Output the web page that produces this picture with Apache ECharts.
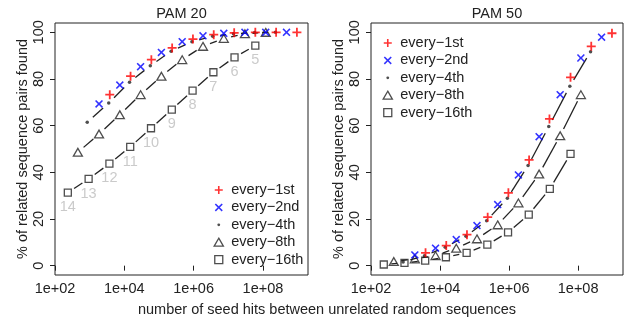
<!DOCTYPE html>
<html>
<head>
<meta charset="utf-8">
<script src="https://cdn.jsdelivr.net/npm/echarts@6.0.0/dist/echarts.min.js"></script>
<style>
  html, body { margin: 0; padding: 0; background: #fff; }
  #main { width: 625px; height: 322px; }
</style>
</head>
<body>
<div id="main"></div>
<script>
// x values are log10(number of seed hits)
var xTicks = [2, 4, 6, 8];
var yTicks = [0, 20, 40, 60, 80, 100];
var names = ['every−1st', 'every−2nd', 'every−4th', 'every−8th', 'every−16th'];

var x1st  = [3.58, 4.18, 4.78, 5.38, 5.98, 6.58, 7.17, 7.78, 8.38, 8.98];
var x2nd  = [3.27, 3.87, 4.47, 5.07, 5.67, 6.27, 6.87, 7.48, 8.08, 8.68];
var x4th  = [2.93, 3.55, 4.15, 4.75, 5.35, 5.95, 6.55, 7.15, 7.76, 8.36];
var x8th  = [2.66, 3.27, 3.87, 4.47, 5.07, 5.67, 6.27, 6.87, 7.48, 8.08];
var x16th = [2.37, 2.97, 3.57, 4.17, 4.77, 5.37, 5.97, 6.57, 7.18, 7.78];

var pam20_1st  = [73.3, 81.2, 88.3, 93.3, 97.1, 99.0, 99.8, 100, 100, 100];
var pam20_2nd  = [69.3, 77.4, 85.3, 91.4, 96.0, 98.5, 99.6, 100, 100, 100];
var pam20_4th  = [61.5, 69.7, 78.6, 85.7, 91.9, 96.0, 98.3, 99.4, 99.9, 100];
var pam20_8th  = [48.6, 56.4, 64.7, 73.3, 81.2, 88.3, 94.0, 97.4, 99.4, 100];
var pam20_16th = [31.3, 37.2, 43.7, 50.9, 58.9, 66.9, 75.0, 82.9, 89.3, 94.3];

var pam50_1st  = [5.5, 8.6, 13.3, 20.8, 31.2, 45.3, 62.9, 80.7, 94.0, 99.6];
var pam50_2nd  = [4.6, 7.5, 11.2, 17.2, 26.2, 38.9, 55.3, 73.3, 89.0, 97.9];
var pam50_4th  = [1.6, 4.2, 7.9, 12.6, 19.3, 28.9, 42.9, 59.6, 76.9, 91.7];
var pam50_8th  = [1.8, 2.9, 4.3, 7.5, 11.5, 17.5, 26.9, 39.3, 55.7, 73.3];
var pam50_16th = [0.5, 1.2, 2.2, 3.6, 5.5, 9.0, 14.3, 21.9, 32.9, 47.9];

// seed weights written next to the every-16th points of PAM 20
var weightLabels = ['14', '13', '12', '11', '10', '9', '8', '7', '6', '5'];

var FONT = "'Liberation Sans', Arial, Helvetica, sans-serif";
var FS = 14.5;
var INK = '#222';
var GAP = 7.5;

var PLUS = 'path://M4,0H6V4H10V6H6V10H4V6H0V4H4Z';
var CROSS = 'path://M0,1.4L1.4,0L5,3.6L8.6,0L10,1.4L6.4,5L10,8.6L8.6,10L5,6.4L1.4,10L0,8.6L3.6,5Z';
var TRI = 'path://M5,0L10,8.66L0,8.66Z';
var SQR = 'path://M0,0H10V10H0Z';
var DOT_ICON = 'path://M0,0M8,8M2.6,4A1.4,1.4 0 1,0 5.4,4A1.4,1.4 0 1,0 2.6,4Z';

var xs = [x1st, x2nd, x4th, x8th, x16th];
var panels = [
  [pam20_1st, pam20_2nd, pam20_4th, pam20_8th, pam20_16th],
  [pam50_1st, pam50_2nd, pam50_4th, pam50_8th, pam50_16th]
];

var styles = [
  { symbol: PLUS, symbolSize: 9, itemStyle: { color: '#ff0000' } },
  { symbol: CROSS, symbolSize: 8, itemStyle: { color: '#0000ff' } },
  { symbol: 'circle', symbolSize: 3.5, itemStyle: { color: INK } },
  { symbol: TRI, symbolSize: 9, itemStyle: { color: 'rgba(0,0,0,0)', borderColor: INK, borderWidth: 1.3 } },
  { symbol: SQR, symbolSize: 7, itemStyle: { color: 'rgba(0,0,0,0)', borderColor: INK, borderWidth: 1.3 } }
];

function zip(a, b) {
  return a.map(function (v, i) { return [v, b[i]]; });
}

function segments(a, b) {
  var out = [];
  for (var i = 1; i < a.length; i++) out.push([a[i - 1], b[i - 1], a[i], b[i]]);
  return out;
}

// R type="b": straight pieces between points, with a gap round each point
function segItem(params, api) {
  try {
    var p = api.coord([api.value(0), api.value(1)]);
    var q = api.coord([api.value(2), api.value(3)]);
    var dx = q[0] - p[0], dy = q[1] - p[1];
    var len = Math.sqrt(dx * dx + dy * dy);
    if (len <= 2 * GAP + 1) return null;
    var ux = dx / len, uy = dy / len;
    return {
      type: 'line',
      shape: { x1: p[0] + ux * GAP, y1: p[1] + uy * GAP, x2: q[0] - ux * GAP, y2: q[1] - uy * GAP },
      style: { stroke: INK, lineWidth: 1.3 }
    };
  } catch (e) {
    return null;
  }
}

var series = [];
panels.forEach(function (ys, g) {
  [2, 3, 4].forEach(function (k) {
    series.push({
      type: 'custom',
      name: 'line' + g + k,
      xAxisIndex: g, yAxisIndex: g,
      renderItem: segItem,
      encode: { x: [0, 2], y: [1, 3] },
      data: segments(xs[k], ys[k]),
      z: 1,
      silent: true
    });
  });
  [4, 3, 2, 1, 0].forEach(function (k) {
    var s = {
      type: 'scatter',
      name: names[k],
      xAxisIndex: g, yAxisIndex: g,
      symbol: styles[k].symbol,
      symbolSize: styles[k].symbolSize,
      symbolKeepAspect: true,
      itemStyle: styles[k].itemStyle,
      data: zip(xs[k], ys[k]),
      z: 3,
      silent: true
    };
    if (g === 0 && k === 4) {
      s.label = {
        show: true, position: 'bottom', distance: 3,
        formatter: function (p) { return weightLabels[p.dataIndex]; },
        color: '#bdbdbd', fontSize: FS, fontFamily: FONT
      };
    }
    series.push(s);
  });
});

var legendData = [
  { name: names[0], icon: PLUS, itemStyle: { color: '#ff0000', borderWidth: 0 } },
  { name: names[1], icon: CROSS, itemStyle: { color: '#0000ff', borderWidth: 0 } },
  { name: names[2], icon: DOT_ICON, itemStyle: { color: INK, borderWidth: 0 } },
  { name: names[3], icon: TRI, itemStyle: { color: 'rgba(0,0,0,0)', borderColor: INK, borderWidth: 1.3 } },
  { name: names[4], icon: SQR, itemStyle: { color: 'rgba(0,0,0,0)', borderColor: INK, borderWidth: 1.3 } }
];

function legendAt(left, top) {
  return {
    orient: 'vertical', left: left, top: top,
    itemWidth: 15, itemHeight: 8, itemGap: 2.4,
    selectedMode: false,
    textStyle: { fontSize: FS, color: INK, fontFamily: FONT },
    data: legendData
  };
}

function xAxisAt(g) {
  return {
    type: 'value', gridIndex: g, min: 2, max: 9.3,
    axisLine: { show: false },
    splitLine: { show: false },
    axisTick: { show: true, length: 5, customValues: xTicks, lineStyle: { color: INK } },
    axisLabel: {
      customValues: xTicks, margin: 6,
      color: INK, fontSize: FS, fontFamily: FONT,
      formatter: function (v) { return '1e+' + (v < 10 ? '0' : '') + v; }
    }
  };
}

function yAxisAt(g) {
  return {
    type: 'value', gridIndex: g, min: -4, max: 104,
    name: '% of related sequence pairs found',
    nameLocation: 'middle', nameGap: 24,
    nameTextStyle: { fontSize: FS, color: INK, fontFamily: FONT },
    axisLine: { show: false },
    splitLine: { show: false },
    axisTick: { show: true, length: 5, customValues: yTicks, lineStyle: { color: INK } },
    axisLabel: {
      customValues: yTicks, rotate: 90, margin: 9,
      color: INK, fontSize: FS, fontFamily: FONT
    }
  };
}

var chart = echarts.init(document.getElementById('main'), null, { renderer: 'canvas' });

var option = {
  backgroundColor: '#fff',
  animation: false,
  grid: [
    { left: 55, top: 23, width: 253, height: 252, show: true, borderColor: INK, borderWidth: 1 },
    { left: 371, top: 23, width: 252, height: 252, show: true, borderColor: INK, borderWidth: 1 }
  ],
  xAxis: [xAxisAt(0), xAxisAt(1)],
  yAxis: [yAxisAt(0), yAxisAt(1)],
  legend: [legendAt(208.5, 177.5), legendAt(377.5, 30.5)],
  graphic: [
    { type: 'text', x: 181.5, y: 14, style: { text: 'PAM 20', align: 'center', verticalAlign: 'middle', fontSize: FS, fontFamily: FONT, fill: INK } },
    { type: 'text', x: 497, y: 14, style: { text: 'PAM 50', align: 'center', verticalAlign: 'middle', fontSize: FS, fontFamily: FONT, fill: INK } },
    { type: 'text', x: 327, y: 310, style: { text: 'number of seed hits between unrelated random sequences', align: 'center', verticalAlign: 'middle', fontSize: FS, fontFamily: FONT, fill: INK } }
  ],
  series: series
};

chart.setOption(option);
</script>
</body>
</html>
